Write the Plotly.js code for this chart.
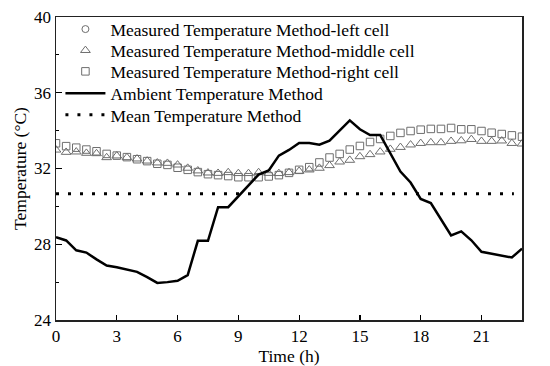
<!DOCTYPE html>
<html>
<head>
<meta charset="utf-8">
<script src="https://cdn.plot.ly/plotly-3.0.1.min.js"></script>
<style>html,body{margin:0;padding:0;background:#fff;}#chart{width:550px;height:366px;}</style>
</head>
<body>
<div id="chart"></div>
<script>
// Time (h), every half hour
var hours = [0,0.5,1,1.5,2,2.5,3,3.5,4,4.5,5,5.5,6,6.5,7,7.5,8,8.5,9,9.5,10,10.5,11,11.5,12,12.5,13,13.5,14,14.5,15,15.5,16,16.5,17,17.5,18,18.5,19,19.5,20,20.5,21,21.5,22,22.5,23];

// Measured Temperature Method - left cell (markers not visible in the figure)
var leftCell = [null,null,null,null,null,null,null,null,null,null,null,null,null,null,null,null,null,null,null,null,null,null,null,null,null,null,null,null,null,null,null,null,null,null,null,null,null,null,null,null,null,null,null,null,null,null,null];

// Measured Temperature Method - middle cell
var middleCell = [32.98,32.86,32.88,32.81,32.79,32.58,32.67,32.58,32.51,32.40,32.30,32.28,32.19,32.02,31.88,31.77,31.75,31.79,31.74,31.74,31.79,31.75,31.74,31.79,31.86,31.93,32.02,32.16,32.35,32.44,32.63,32.74,32.88,33.02,33.12,33.25,33.33,33.37,33.37,33.44,33.47,33.54,33.44,33.44,33.46,33.33,33.30];

// Measured Temperature Method - right cell
var rightCell = [33.33,33.18,33.10,33.00,32.91,32.77,32.68,32.60,32.49,32.39,32.25,32.19,32.04,31.93,31.81,31.70,31.65,31.60,31.54,31.54,31.54,31.58,31.65,31.77,31.93,32.07,32.32,32.58,32.77,33.00,33.19,33.40,33.56,33.72,33.88,33.98,34.05,34.09,34.09,34.14,34.07,34.07,33.98,33.89,33.82,33.75,33.68];

// Ambient Temperature Method
var ambient = [28.37,28.20,27.68,27.56,27.20,26.88,26.79,26.67,26.54,26.26,25.96,26.00,26.07,26.37,28.18,28.18,29.96,29.96,30.53,31.09,31.68,31.90,32.68,32.98,33.35,33.35,33.26,33.47,33.98,34.54,34.07,33.77,33.77,32.80,31.84,31.26,30.39,30.18,29.30,28.47,28.68,28.21,27.60,27.49,27.40,27.30,27.77];

// Mean Temperature Method
var meanHours = [0, 22.6];
var meanTemp = [30.67, 30.67];

var xTicks = [0,3,6,9,12,15,18,21];
var yTicks = [24,28,32,36,40];

var markerColor = '#6e6e6e';
var font = 'Liberation Serif, Times New Roman, serif';

var traces = [
  {x: hours, y: leftCell, name: 'Measured Temperature Method-left cell', mode: 'markers', legend: 'legend',
   marker: {symbol: 'circle-open', size: 7, color: markerColor, line: {width: 1}}},
  {x: hours, y: middleCell, name: 'Measured Temperature Method-middle cell', mode: 'markers', legend: 'legend2',
   marker: {symbol: 'triangle-up-open', size: 8.5, color: markerColor, line: {width: 1}}},
  {x: hours, y: rightCell, name: 'Measured Temperature Method-right cell', mode: 'markers', legend: 'legend3',
   marker: {symbol: 'square-open', size: 7.5, color: markerColor, line: {width: 1}}},
  {x: hours, y: ambient, name: 'Ambient Temperature Method', mode: 'lines', legend: 'legend4',
   line: {color: '#000', width: 2.5}},
  {x: meanHours, y: meanTemp, name: 'Mean Temperature Method', mode: 'lines', legend: 'legend5',
   line: {color: '#000', width: 3, dash: '3px,9px'}}
];

function leg(yPos) {
  return {x: 0.0095, y: yPos, xanchor: 'left', yanchor: 'middle', bgcolor: 'rgba(0,0,0,0)',
          itemwidth: 40, font: {family: font, size: 17.5, color: '#000'}};
}

var layout = {
  width: 550, height: 366,
  margin: {l: 56, r: 28, t: 16, b: 46},
  paper_bgcolor: '#fff', plot_bgcolor: '#fff',
  font: {family: font, size: 17, color: '#000'},
  showlegend: true,
  legend: leg(0.9566),
  legend2: leg(0.8866),
  legend3: leg(0.8175),
  legend4: leg(0.7451),
  legend5: leg(0.6744),
  xaxis: {
    range: [0, 23], tickvals: xTicks, ticktext: xTicks.map(String),
    ticks: 'inside', ticklen: 5, tickwidth: 1.2, tickcolor: '#000',
    showline: true, linecolor: '#222', linewidth: 1.5, mirror: true,
    showgrid: false, zeroline: false,
    tickfont: {family: font, size: 17, color: '#000'},
    title: {text: 'Time (h)', font: {family: font, size: 17.5, color: '#000'}, standoff: 1}
  },
  yaxis: {
    range: [24, 40], tickvals: yTicks, ticktext: yTicks.map(String),
    ticks: 'inside', ticklen: 6, tickwidth: 1.2, tickcolor: '#000',
    minor: {dtick: 2, tick0: 24, ticks: 'inside', ticklen: 3, tickwidth: 1, tickcolor: '#000', showgrid: false},
    showline: true, linecolor: '#222', linewidth: 1.5, mirror: true,
    showgrid: false, zeroline: false,
    tickfont: {family: font, size: 17, color: '#000'},
    title: {text: 'Temperature (°C)', font: {family: font, size: 17.5, color: '#000'}, standoff: 3}
  }
};

Plotly.newPlot('chart', traces, layout, {staticPlot: true, displayModeBar: false});
</script>
</body>
</html>
